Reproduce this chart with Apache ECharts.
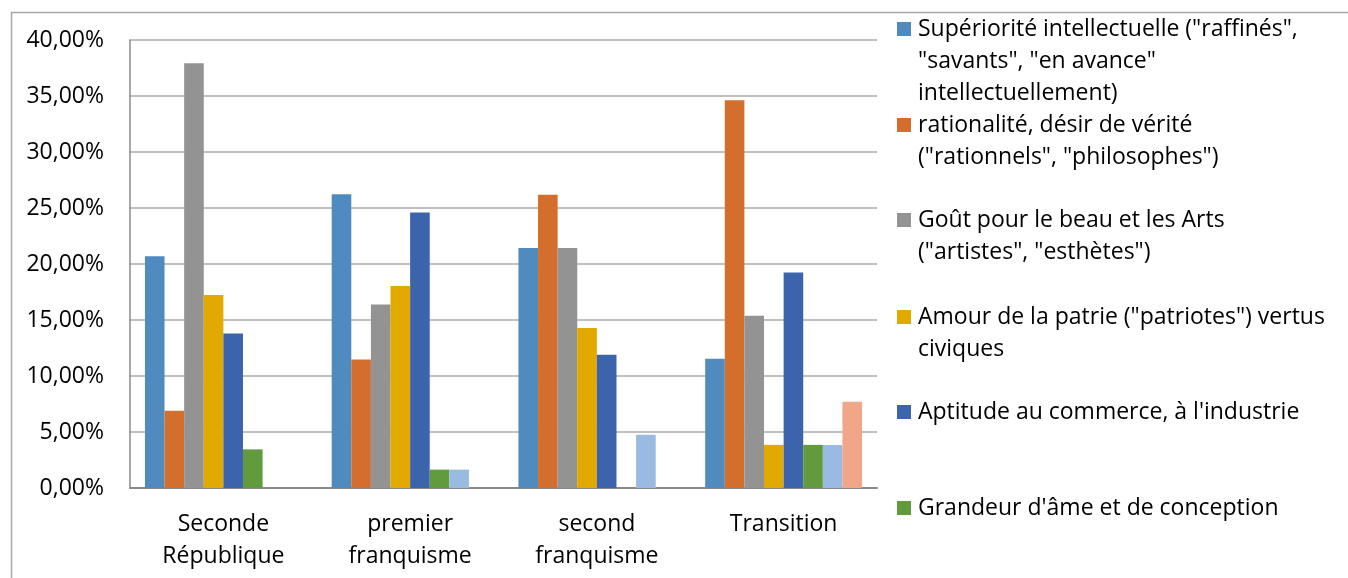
<!DOCTYPE html>
<html>
<head>
<meta charset="utf-8">
<script src="https://cdn.jsdelivr.net/npm/echarts@6/dist/echarts.min.js"></script>
<style>
  html, body { margin: 0; padding: 0; background: #fff; }
  #main { width: 1348px; height: 578px; }
</style>
</head>
<body>
<div id="main"></div>
<script>
var categories = ["Seconde\nRépublique", "premier\nfranquisme", "second\nfranquisme", "Transition"];

var seriesNames = [
    'Supériorité intellectuelle ("raffinés", "savants", "en avance" intellectuellement)',
    'rationalité, désir de vérité ("rationnels", "philosophes")',
    'Goût pour le beau et les Arts ("artistes", "esthètes")',
    'Amour de la patrie ("patriotes") vertus civiques',
    "Aptitude au commerce, à l'industrie",
    "Grandeur d'âme et de conception",
    "Série 7",
    "Série 8"
];

// legend text as it is wrapped in the picture
var legendLines = [
    ['Supériorité intellectuelle ("raffinés",', '"savants", "en avance"', 'intellectuellement)'],
    ['rationalité, désir de vérité', '("rationnels", "philosophes")'],
    ['Goût pour le beau et les Arts', '("artistes", "esthètes")'],
    ['Amour de la patrie ("patriotes") vertus', 'civiques'],
    ["Aptitude au commerce, à l'industrie"],
    ["Grandeur d'âme et de conception"]
];

// values in %
var superiorite = [20.69, 26.23, 21.43, 11.54];
var rationalite = [6.90, 11.48, 26.19, 34.62];
var gout = [37.93, 16.39, 21.43, 15.38];
var patrie = [17.24, 18.03, 14.29, 3.85];
var commerce = [13.79, 24.59, 11.90, 19.23];
var grandeur = [3.45, 1.64, 0, 3.85];
var serie7 = [0, 1.64, 4.76, 3.85];
var serie8 = [0, 0, 0, 7.69];

var yTicks = { min: 0, max: 40, interval: 5 };

var colors = ["#508BBF", "#D36E2C", "#939393", "#E2AA00", "#3C64AC", "#629A3E", "#9ABBE1", "#F0A688"];
var allValues = [superiorite, rationalite, gout, patrie, commerce, grandeur, serie7, serie8];

var fontFamily = "Open Sans";
var fontSize = 23;
var lineH = 32;
var legendIconY = [29, 125, 220, 317, 412, 508];

var chartDom = document.getElementById("main");
var myChart = echarts.init(chartDom);

var series = allValues.map(function (vals, i) {
    return {
        name: seriesNames[i],
        type: 'bar',
        data: vals,
        barGap: '0%',
        barCategoryGap: '16%',
        itemStyle: { color: colors[i] },
        animation: false
    };
});

// one legend per entry, so the marker sits on the first line like the original
var legends = legendLines.map(function (lines, i) {
    var n = lines.length;
    var pad = [];
    for (var k = 0; k < n - 1; k++) pad.push('');
    var text = pad.concat(lines).join('\n');
    return {
        data: [seriesNames[i]],
        orient: 'vertical',
        left: 897,
        top: legendIconY[i] - (2 * n - 1) * lineH / 2,
        padding: 0,
        itemWidth: 14,
        itemHeight: 14,
        icon: 'rect',
        selectedMode: false,
        formatter: function () { return text; },
        textStyle: {
            fontFamily: fontFamily,
            fontSize: fontSize,
            color: '#000',
            lineHeight: lineH,
            padding: [0, 0, 0, 2]
        }
    };
});

var option = {
    backgroundColor: '#fff',
    animation: false,
    grid: {
        left: 130,
        right: 471,
        top: 40,
        bottom: 90,
        containLabel: false
    },
    legend: legends,
    xAxis: {
        type: 'category',
        data: categories,
        axisLine: { show: true, lineStyle: { color: '#898989', width: 2 } },
        axisTick: { show: false },
        axisLabel: {
            interval: 0,
            margin: 20,
            fontFamily: fontFamily,
            fontSize: fontSize,
            color: '#000',
            lineHeight: lineH
        }
    },
    yAxis: {
        type: 'value',
        min: yTicks.min,
        max: yTicks.max,
        interval: yTicks.interval,
        axisLine: { show: true, lineStyle: { color: '#898989', width: 1.5 } },
        axisTick: { show: false },
        splitLine: { show: true, lineStyle: { color: '#ABABAB', width: 1.5 } },
        axisLabel: {
            margin: 26,
            fontFamily: fontFamily,
            fontSize: fontSize,
            color: '#000',
            formatter: function (v) {
                return v.toFixed(2).replace('.', ',') + '%';
            }
        }
    },
    graphic: [{
        type: 'rect',
        left: 9,
        top: 10,
        shape: { width: 1400, height: 600 },
        style: { fill: 'none', stroke: '#A6A6A6', lineWidth: 1.5 },
        silent: true,
        z: -1
    }],
    series: series
};
myChart.setOption(option);
</script>
</body>
</html>
